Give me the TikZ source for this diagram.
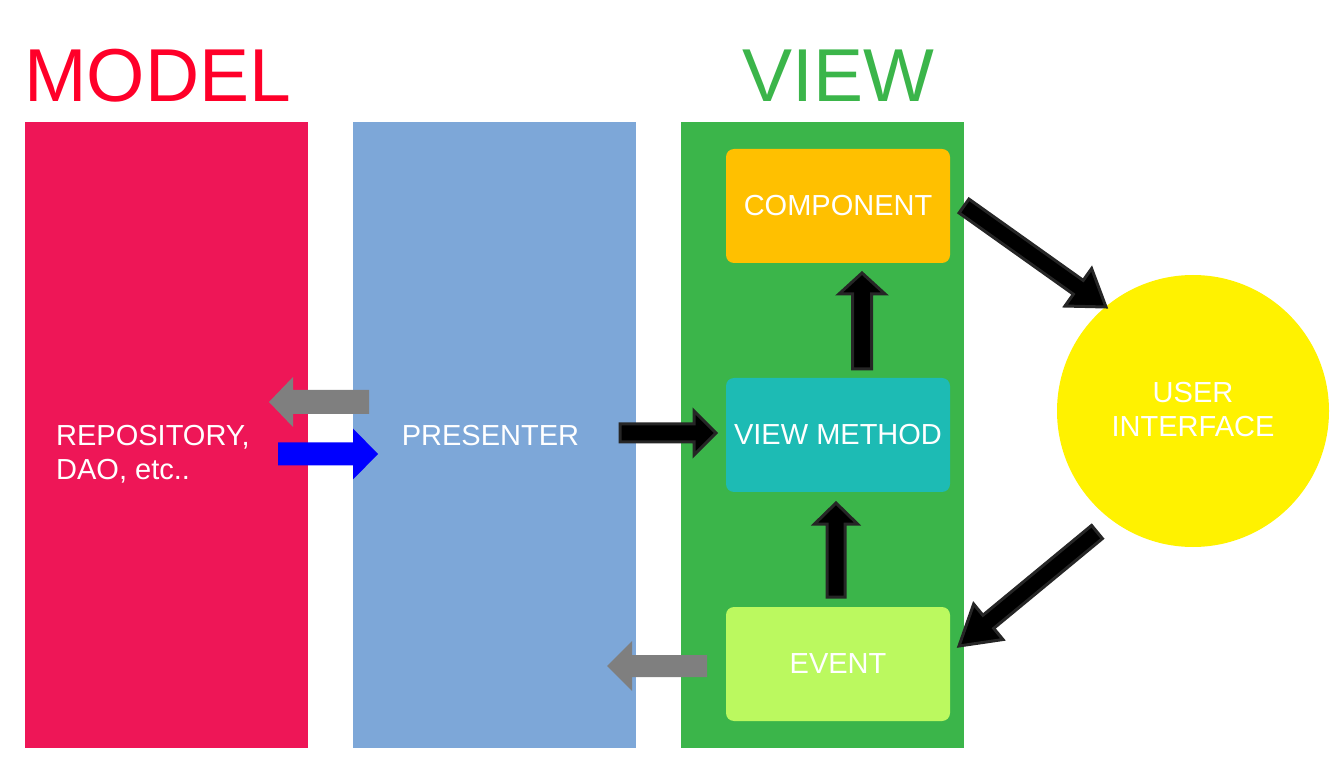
\documentclass[tikz,border=0pt]{standalone}
\usepackage{fontspec}
\setmainfont{Liberation Sans}
\usetikzlibrary{calc}
\definecolor{modelred}{HTML}{EE1657}
\definecolor{titlered}{HTML}{FF0029}
\definecolor{presblue}{HTML}{7DA7D8}
\definecolor{viewgreen}{HTML}{3BB54A}
\definecolor{compyellow}{HTML}{FFC000}
\definecolor{vmteal}{HTML}{1DBBB4}
\definecolor{eventgreen}{HTML}{BBF95F}
\definecolor{uiyellow}{HTML}{FFF200}
\definecolor{arrowgray}{HTML}{7F7F7F}
\definecolor{arrowborder}{HTML}{262626}
\newcommand\blockarrow[6]{%
  \coordinate (ba-base) at ($(#3)!#6!(#2)$);
  \path[#1] ($(#2)!#4!90:(#3)$) -- ($(ba-base)!#4!90:(#3)$) -- ($(ba-base)!#5!90:(#3)$)
    -- (#3) -- ($(ba-base)!#5!-90:(#3)$) -- ($(ba-base)!#4!-90:(#3)$) -- ($(#2)!#4!-90:(#3)$) -- cycle;
}
\tikzset{
  col/.style={anchor=north west, inner sep=0pt, minimum width=283pt, minimum height=626pt},
  box/.style={rounded corners=8pt, inner sep=0pt, minimum width=224pt, minimum height=114pt,
    text=white, font=\fontsize{29}{35}\selectfont},
  lbl/.style={text=white, inner sep=0pt, font=\fontsize{29}{34}\selectfont},
  title/.style={inner sep=0pt, anchor=base west, font=\fontsize{75}{80}\selectfont},
  blackarrow/.style={fill=black, draw=arrowborder, line width=3pt, line join=miter},
  grayarrow/.style={fill=arrowgray},
  bluearrow/.style={fill=blue},
}
\begin{document}
\begin{tikzpicture}[x=1pt,y=-1pt]
\useasboundingbox (0,0) rectangle (1342,783);
% titles
\node[title, text=titlered] (modeltitle) at (24,102) {MODEL};
\node[title, text=viewgreen] (viewtitle) at (742,102) {VIEW};
% columns
\node[col, fill=modelred] (model) at (25,122) {};
\node[col, fill=presblue] (presenter) at (353,122) {};
\node[col, fill=viewgreen] (view) at (681,122) {};
% labels
\node[lbl, anchor=north west, align=left] (repo) at (56,425) {REPOSITORY,\\DAO, etc..};
\node[lbl] (preslabel) at (490.5,436) {PRESENTER};
% view boxes
\node[box, fill=compyellow] (component) at (838,206) {COMPONENT};
\node[box, fill=vmteal] (viewmethod) at (838,435) {VIEW METHOD};
\node[box, fill=eventgreen] (event) at (838,664) {EVENT};
% user interface
\node[circle, fill=uiyellow, minimum size=272pt, inner sep=0pt] (ui) at (1193,411) {};
\node[lbl, anchor=north, align=center] (uilabel) at (1193,382) {USER\\INTERFACE};
% arrow end points
\coordinate (g1s) at (369,402); \coordinate (g1e) at (269,402);
\coordinate (b1s) at (278,454); \coordinate (b1e) at (378,454);
\coordinate (k1s) at (620,433); \coordinate (k1e) at (716,433);
\coordinate (k2s) at (862,369); \coordinate (k2e) at (862,273);
\coordinate (k3s) at (836,597); \coordinate (k3e) at (836,503);
\coordinate (k4s) at (964,206); \coordinate (k4e) at (1106,307);
\coordinate (k5s) at (1097,532); \coordinate (k5e) at (959,646);
\coordinate (g2s) at (707,666); \coordinate (g2e) at (607,666);
% arrows
\blockarrow{grayarrow}{g1s}{g1e}{12pt}{25pt}{24pt}
\blockarrow{bluearrow}{b1s}{b1e}{11.5pt}{25.5pt}{25pt}
\blockarrow{grayarrow}{g2s}{g2e}{11pt}{25pt}{25pt}
\blockarrow{blackarrow}{k1s}{k1e}{9pt}{22pt}{22pt}
\blockarrow{blackarrow}{k2s}{k2e}{9.5pt}{23pt}{21pt}
\blockarrow{blackarrow}{k3s}{k3e}{9pt}{21.5pt}{21pt}
\blockarrow{blackarrow}{k4s}{k4e}{8.5pt}{23pt}{34pt}
\blockarrow{blackarrow}{k5s}{k5e}{8.5pt}{23pt}{38pt}
\end{tikzpicture}
\end{document}
